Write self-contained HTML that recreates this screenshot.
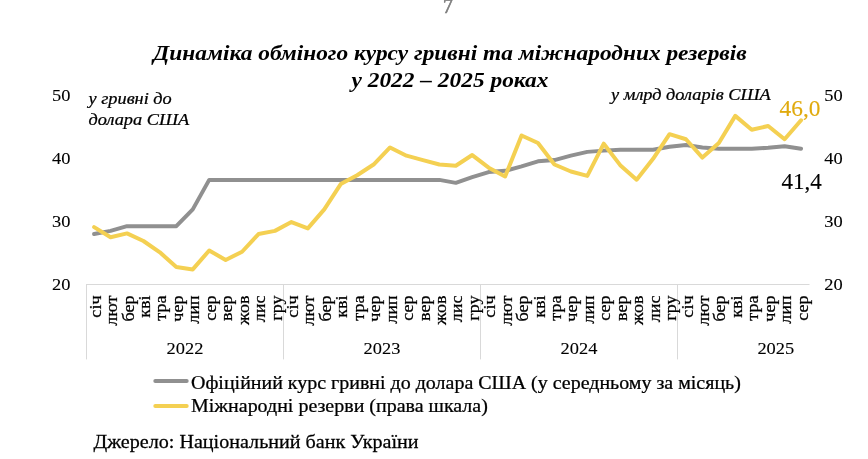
<!DOCTYPE html>
<html lang="uk"><head><meta charset="utf-8"><title>Динаміка обміного курсу гривні</title>
<style>
html,body{margin:0;padding:0;background:#fff;}
body{width:868px;height:459px;overflow:hidden;}
svg{display:block;font-family:"Liberation Serif",serif;}
text{fill:#000;stroke:#000;stroke-width:0.25px;}
.pg{font-size:20px;fill:#7f7f7f;stroke:#7f7f7f;stroke-width:0.7px;text-anchor:middle;}
.ax{font-size:17.4px;stroke-width:0.1px;}
.axm{stroke-width:0.1px;font-size:17.4px;text-anchor:middle;}
.it{font-size:16.5px;font-style:italic;}
.ttl{stroke-width:0;font-size:21.8px;font-style:italic;font-weight:bold;text-anchor:middle;}
.lg{font-size:18px;}
.dl{font-size:22.6px;stroke-width:0.1px;}
.dly{stroke-width:0.1px;font-size:22.6px;fill:#e0aa0c;stroke:#e0aa0c;}
.mo{font-size:16.3px;text-anchor:end;}
</style></head><body>
<svg width="868" height="459" viewBox="0 0 868 459">
<rect width="868" height="459" fill="#fff"/>
<text class="pg" transform="translate(448.00,13.10) scale(1.0,1)">7</text>
<text class="ttl" transform="translate(450.00,59.70) scale(1.073,1)">Динаміка обміного курсу гривні та міжнародних резервів</text>
<text class="ttl" transform="translate(450.00,86.50) scale(1.073,1)">у 2022 – 2025 роках</text>
<text class="ax" transform="translate(52.00,100.80) scale(1.06,1)">50</text>
<text class="ax" transform="translate(824.30,100.80) scale(1.06,1)">50</text>
<text class="ax" transform="translate(52.00,164.00) scale(1.06,1)">40</text>
<text class="ax" transform="translate(824.30,164.00) scale(1.06,1)">40</text>
<text class="ax" transform="translate(52.00,227.20) scale(1.06,1)">30</text>
<text class="ax" transform="translate(824.30,227.20) scale(1.06,1)">30</text>
<text class="ax" transform="translate(52.00,290.40) scale(1.06,1)">20</text>
<text class="ax" transform="translate(824.30,290.40) scale(1.06,1)">20</text>
<text class="it" transform="translate(88.50,103.50) scale(1.11,1)">у гривні до</text>
<text class="it" transform="translate(88.50,124.50) scale(1.11,1)">долара США</text>
<text class="it" transform="translate(611.00,99.60) scale(1.11,1)">у млрд доларів США</text>
<path d="M86 284.5H809.5" stroke="#d9d9d9" stroke-width="1" fill="none"/>
<path d="M86.5 284V359.4" stroke="#d9d9d9" stroke-width="1" fill="none"/>
<path d="M283.5 284V359.4" stroke="#d9d9d9" stroke-width="1" fill="none"/>
<path d="M480.5 284V359.4" stroke="#d9d9d9" stroke-width="1" fill="none"/>
<path d="M677.5 284V359.4" stroke="#d9d9d9" stroke-width="1" fill="none"/>
<text class="mo" transform="translate(100.72,295.5) rotate(-90) scale(1.11,1)">січ</text>
<text class="mo" transform="translate(117.16,295.5) rotate(-90) scale(1.11,1)">лют</text>
<text class="mo" transform="translate(133.60,295.5) rotate(-90) scale(1.11,1)">бер</text>
<text class="mo" transform="translate(150.04,295.5) rotate(-90) scale(1.11,1)">кві</text>
<text class="mo" transform="translate(166.48,295.5) rotate(-90) scale(1.11,1)">тра</text>
<text class="mo" transform="translate(182.92,295.5) rotate(-90) scale(1.11,1)">чер</text>
<text class="mo" transform="translate(199.36,295.5) rotate(-90) scale(1.11,1)">лип</text>
<text class="mo" transform="translate(215.80,295.5) rotate(-90) scale(1.11,1)">сер</text>
<text class="mo" transform="translate(232.24,295.5) rotate(-90) scale(1.11,1)">вер</text>
<text class="mo" transform="translate(248.68,295.5) rotate(-90) scale(1.11,1)">жов</text>
<text class="mo" transform="translate(265.12,295.5) rotate(-90) scale(1.11,1)">лис</text>
<text class="mo" transform="translate(281.56,295.5) rotate(-90) scale(1.11,1)">гру</text>
<text class="mo" transform="translate(298.00,295.5) rotate(-90) scale(1.11,1)">січ</text>
<text class="mo" transform="translate(314.44,295.5) rotate(-90) scale(1.11,1)">лют</text>
<text class="mo" transform="translate(330.88,295.5) rotate(-90) scale(1.11,1)">бер</text>
<text class="mo" transform="translate(347.32,295.5) rotate(-90) scale(1.11,1)">кві</text>
<text class="mo" transform="translate(363.76,295.5) rotate(-90) scale(1.11,1)">тра</text>
<text class="mo" transform="translate(380.20,295.5) rotate(-90) scale(1.11,1)">чер</text>
<text class="mo" transform="translate(396.64,295.5) rotate(-90) scale(1.11,1)">лип</text>
<text class="mo" transform="translate(413.08,295.5) rotate(-90) scale(1.11,1)">сер</text>
<text class="mo" transform="translate(429.52,295.5) rotate(-90) scale(1.11,1)">вер</text>
<text class="mo" transform="translate(445.96,295.5) rotate(-90) scale(1.11,1)">жов</text>
<text class="mo" transform="translate(462.40,295.5) rotate(-90) scale(1.11,1)">лис</text>
<text class="mo" transform="translate(478.84,295.5) rotate(-90) scale(1.11,1)">гру</text>
<text class="mo" transform="translate(495.28,295.5) rotate(-90) scale(1.11,1)">січ</text>
<text class="mo" transform="translate(511.72,295.5) rotate(-90) scale(1.11,1)">лют</text>
<text class="mo" transform="translate(528.16,295.5) rotate(-90) scale(1.11,1)">бер</text>
<text class="mo" transform="translate(544.60,295.5) rotate(-90) scale(1.11,1)">кві</text>
<text class="mo" transform="translate(561.04,295.5) rotate(-90) scale(1.11,1)">тра</text>
<text class="mo" transform="translate(577.48,295.5) rotate(-90) scale(1.11,1)">чер</text>
<text class="mo" transform="translate(593.92,295.5) rotate(-90) scale(1.11,1)">лип</text>
<text class="mo" transform="translate(610.36,295.5) rotate(-90) scale(1.11,1)">сер</text>
<text class="mo" transform="translate(626.80,295.5) rotate(-90) scale(1.11,1)">вер</text>
<text class="mo" transform="translate(643.24,295.5) rotate(-90) scale(1.11,1)">жов</text>
<text class="mo" transform="translate(659.68,295.5) rotate(-90) scale(1.11,1)">лис</text>
<text class="mo" transform="translate(676.12,295.5) rotate(-90) scale(1.11,1)">гру</text>
<text class="mo" transform="translate(692.56,295.5) rotate(-90) scale(1.11,1)">січ</text>
<text class="mo" transform="translate(709.00,295.5) rotate(-90) scale(1.11,1)">лют</text>
<text class="mo" transform="translate(725.44,295.5) rotate(-90) scale(1.11,1)">бер</text>
<text class="mo" transform="translate(741.88,295.5) rotate(-90) scale(1.11,1)">кві</text>
<text class="mo" transform="translate(758.32,295.5) rotate(-90) scale(1.11,1)">тра</text>
<text class="mo" transform="translate(774.76,295.5) rotate(-90) scale(1.11,1)">чер</text>
<text class="mo" transform="translate(791.20,295.5) rotate(-90) scale(1.11,1)">лип</text>
<text class="mo" transform="translate(807.64,295.5) rotate(-90) scale(1.11,1)">сер</text>
<text class="axm" transform="translate(185.00,353.70) scale(1.06,1)">2022</text>
<text class="axm" transform="translate(382.00,353.70) scale(1.06,1)">2023</text>
<text class="axm" transform="translate(579.00,353.70) scale(1.06,1)">2024</text>
<text class="axm" transform="translate(775.80,353.70) scale(1.06,1)">2025</text>
<g fill="none" stroke-width="4" stroke-linecap="round" stroke-linejoin="round">
<polyline points="94.12,234.04 110.56,230.88 127.00,226.14 143.44,226.14 159.88,226.14 176.32,226.14 192.76,209.39 209.20,179.88 225.64,179.88 242.08,179.88 258.52,179.88 274.96,179.88 291.40,179.88 307.84,179.88 324.28,179.88 340.72,179.88 357.16,179.88 373.60,179.88 390.04,179.88 406.48,179.88 422.92,179.88 439.36,179.88 455.80,182.85 472.24,177.16 488.68,172.10 505.12,170.84 521.56,166.42 538.00,161.36 554.44,160.10 570.88,155.67 587.32,151.88 603.76,150.62 620.20,149.67 636.64,149.67 653.08,149.67 669.52,146.82 685.96,144.93 702.40,147.46 718.84,148.72 735.28,148.72 751.72,148.72 768.16,147.77 784.60,146.19 801.04,148.72" stroke="#909090"/>
<polyline points="94.12,227.09 110.56,237.20 127.00,233.41 143.44,240.99 159.88,252.37 176.32,266.90 192.76,269.43 209.20,250.47 225.64,259.95 242.08,251.74 258.52,234.04 274.96,230.88 291.40,222.03 307.84,228.35 324.28,209.39 340.72,184.11 357.16,175.26 373.60,164.52 390.04,147.46 406.48,155.67 422.92,160.10 439.36,164.52 455.80,165.78 472.24,155.04 488.68,167.68 505.12,176.53 521.56,135.45 538.00,143.03 554.44,164.52 570.88,171.47 587.32,175.90 603.76,143.66 620.20,165.15 636.64,179.69 653.08,158.83 669.52,134.18 685.96,139.24 702.40,157.57 718.84,143.03 735.28,115.86 751.72,129.76 768.16,125.97 784.60,139.24 801.04,120.28" stroke="#f4d052"/>
<path d="M155.3 381H186.7" stroke="#909090"/>
<path d="M155.3 406H186.7" stroke="#f4d052"/>
</g>
<text class="dly" transform="translate(779.50,115.80) scale(1.035,1)">46,0</text>
<text class="dl" transform="translate(781.50,188.70) scale(1.02,1)">41,4</text>
<text class="lg" transform="translate(191.00,388.50) scale(1.11,1)">Офіційний курс гривні до долара США (у середньому за місяць)</text>
<text class="lg" transform="translate(191.00,412.20) scale(1.11,1)">Міжнародні резерви (права шкала)</text>
<text class="lg" transform="translate(93.50,447.90) scale(1.117,1)">Джерело: Національний банк України</text>
</svg>
</body></html>
